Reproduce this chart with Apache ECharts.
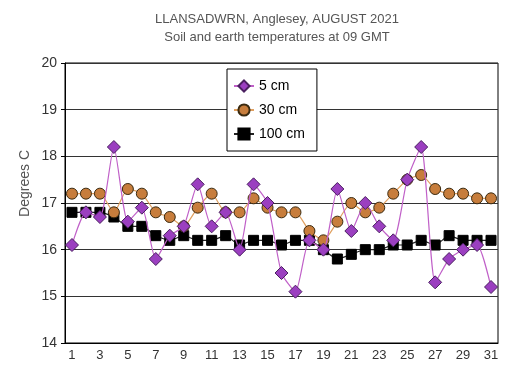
<!DOCTYPE html>
<html>
<head>
<meta charset="utf-8">
<script src="https://cdn.jsdelivr.net/npm/echarts@6/dist/echarts.min.js"></script>
<style>
    html, body {margin: 0; padding: 0; background: #fff;}
    #chart {width: 508px; height: 378px;}
</style>
</head>
<body>
<div id="chart"></div>
<script>
// days of August 2021
const days = [];
for (let d = 1; d <= 31; d++) days.push(String(d));

// readings at 09 GMT, degrees C
const temp5cm = [16.1, 16.8, 16.7, 18.2, 16.6, 16.9, 15.8, 16.3, 16.5, 17.4,
    16.5, 16.8, 16.0, 17.4, 17.0, 15.5, 15.1, 16.2, 16.0, 17.3,
    16.4, 17.0, 16.5, 16.2, 17.5, 18.2, 15.3, 15.8, 16.0, 16.1, 15.2];
const temp30cm = [17.2, 17.2, 17.2, 16.8, 17.3, 17.2, 16.8, 16.7, 16.5, 16.9,
    17.2, 16.8, 16.8, 17.1, 16.9, 16.8, 16.8, 16.4, 16.2, 16.6,
    17.0, 16.8, 16.9, 17.2, 17.5, 17.6, 17.3, 17.2, 17.2, 17.1, 17.1];
const temp100cm = [16.8, 16.8, 16.8, 16.7, 16.5, 16.5, 16.3, 16.2, 16.3, 16.2,
    16.2, 16.3, 16.1, 16.2, 16.2, 16.1, 16.2, 16.2, 16.0, 15.8,
    15.9, 16.0, 16.0, 16.1, 16.1, 16.2, 16.1, 16.3, 16.2, 16.2, 16.2];

const font = 'Arial, "Liberation Sans", sans-serif';

const chart = echarts.init(document.getElementById('chart'));

const option = {
    backgroundColor: '#fff',
    animation: false,
    textStyle: {fontFamily: font},
    title: {
        text: 'LLANSADWRN, Anglesey, AUGUST 2021\nSoil and earth temperatures at 09 GMT',
        left: 272,
        top: 5,
        textAlign: 'center',
        textStyle: {fontSize: 13, fontWeight: 'normal', color: '#555', lineHeight: 18, fontFamily: font}
    },
    graphic: [{
        type: 'text',
        left: 18,
        top: 150,
        rotation: Math.PI / 2,
        style: {text: 'Degrees C', fontSize: 14, fill: '#555', fontFamily: font}
    }],
    legend: {
        orient: 'vertical',
        left: 227,
        top: 69,
        padding: [10, 12, 10, 6],
        itemGap: 10,
        itemWidth: 20,
        itemHeight: 14,
        backgroundColor: '#fff',
        borderColor: '#000',
        borderWidth: 1,
        textStyle: {fontSize: 14, color: '#000', fontFamily: font},
        data: ['5 cm', '30 cm', '100 cm']
    },
    grid: {left: 65, right: 10, top: 63, bottom: 35, show: true, borderColor: '#000', borderWidth: 1},
    xAxis: {
        type: 'category',
        data: days,
        boundaryGap: true,
        axisLine: {lineStyle: {color: '#000'}},
        axisTick: {show: false},
        axisLabel: {interval: 1, color: '#333', fontSize: 13, margin: 6, fontFamily: font}
    },
    yAxis: {
        type: 'value',
        min: 14,
        max: 20,
        interval: 1,
        axisLine: {show: true, lineStyle: {color: '#000'}},
        axisTick: {show: true, length: 4, lineStyle: {color: '#000'}},
        axisLabel: {color: '#333', fontSize: 14, margin: 8, fontFamily: font},
        splitLine: {lineStyle: {color: '#333', width: 1}}
    },
    series: [
        {
            name: '5 cm',
            type: 'line',
            data: temp5cm,
            smooth: 0.2,
            showAllSymbol: true,
            symbol: 'diamond',
            symbolSize: 13,
            z: 4,
            lineStyle: {color: '#c060c8', width: 1.2},
            itemStyle: {color: '#9b3fc0', borderColor: '#4a2060', borderWidth: 1}
        },
        {
            name: '30 cm',
            type: 'line',
            data: temp30cm,
            smooth: 0.2,
            showAllSymbol: true,
            symbol: 'circle',
            symbolSize: 11,
            z: 3,
            lineStyle: {color: '#e0a060', width: 1.2},
            itemStyle: {color: '#c77d3c', borderColor: '#3a2a10', borderWidth: 1}
        },
        {
            name: '100 cm',
            type: 'line',
            data: temp100cm,
            smooth: 0.2,
            showAllSymbol: true,
            symbol: 'rect',
            symbolSize: 10,
            z: 2,
            lineStyle: {color: '#222', width: 1.2},
            itemStyle: {color: '#000', borderColor: '#000', borderWidth: 1}
        }
    ]
};

chart.setOption(option);
</script>
</body>
</html>
